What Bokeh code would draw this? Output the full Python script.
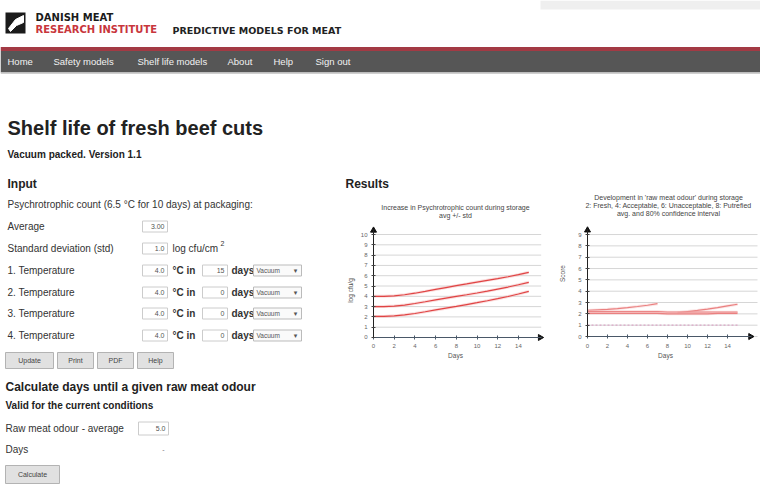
import math
import numpy as np
from bokeh.plotting import figure
from bokeh.layouts import column, row
from bokeh.models import Range1d, FixedTicker
from bokeh.core.properties import value
from bokeh.embed import file_html
from bokeh.resources import INLINE

# ---------------- chart data ----------------
days = list(range(16))
day_ticks = [0, 2, 4, 6, 8, 10, 12, 14]

# Chart 1: psychrotrophic count (log cfu/g), avg +/- std
psy_upper = [4.0, 4.0, 4.05, 4.15, 4.3, 4.48, 4.67, 4.85, 5.03, 5.2, 5.38, 5.55, 5.72, 5.9, 6.1, 6.33]
psy_avg = [3.0, 3.0, 3.05, 3.15, 3.3, 3.47, 3.65, 3.82, 3.99, 4.15, 4.32, 4.5, 4.7, 4.9, 5.12, 5.36]
psy_lower = [2.05, 2.05, 2.1, 2.2, 2.33, 2.5, 2.68, 2.85, 3.02, 3.2, 3.38, 3.57, 3.77, 3.98, 4.22, 4.48]
psy_yticks = [0, 1, 2, 3, 4, 5, 6, 7, 8, 9, 10]

# Chart 2: raw meat odour score, avg and 80% confidence interval
odour_upper = [2.3, 2.35, 2.4, 2.47, 2.55, 2.65, 2.76, 2.9, np.nan, 2.1, 2.2, 2.3, 2.42, 2.55, 2.7, 2.85]
odour_avg = [2.2, 2.2, 2.2, 2.2, 2.2, 2.2, 2.2, 2.2, 2.15, 2.15, 2.15, 2.15, 2.15, 2.15, 2.15, 2.15]
odour_lower = [2.05, 2.05, 2.05, 2.05, 2.05, 2.05, 2.05, 2.05, 2.0, 2.0, 2.0, 2.0, 2.0, 2.05, 2.05, 2.05]
odour_ref_days = [0, 15]
odour_ref_level = [1.0, 1.0]
odour_yticks = [0, 1, 2, 3, 4, 5, 6, 7, 8, 9]

psy_title = ["Increase in Psychrotrophic count during storage", "avg +/- std"]
odour_title = ["Development in 'raw meat odour' during storage",
               "2: Fresh, 4: Acceptable, 6: Unacceptable, 8: Putrefied",
               "avg. and 80% confidence interval"]

# ---------------- page texts ----------------
nav_items = ["Home", "Safety models", "Shelf life models", "About", "Help", "Sign out"]
form_labels = ["Average", "Standard deviation (std)", "1. Temperature",
               "2. Temperature", "3. Temperature", "4. Temperature"]
form_values = ["3.00", "1.0", "4.0", "4.0", "4.0", "4.0"]
period_days = ["15", "0", "0", "0"]
button_labels = ["Update", "Print", "PDF", "Help"]

# ---------------- layout (pixel positions of page chrome) ----------------
nav_x = [7, 53, 137, 227, 273, 315]
form_y = [226, 248, 270, 292, 313, 335]
button_l = [5, 57, 97, 137]
button_r = [53, 93, 133, 173]

SANS = "Liberation Sans"


def txt(p, xs, ys, texts, size, color="#333333", bold=False, align="left",
        font=SANS, baseline="middle", angle=0.0):
    p.text(x=xs, y=ys, text=texts, text_font=value(font), text_font_size=size,
           text_font_style="bold" if bold else "normal", text_color=color,
           text_align=align, text_baseline=baseline, angle=angle)


def page_fig(w, h, x0, x1, y0, y1):
    p = figure(width=w, height=h, x_range=Range1d(x0, x1), y_range=Range1d(y1, y0),
               output_backend="svg", toolbar_location=None, min_border=0,
               outline_line_color=None, x_axis_location=None, y_axis_location=None)
    p.grid.visible = False
    p.background_fill_color = "white"
    p.border_fill_color = "white"
    return p


# ---------------- header / top part ----------------
top = page_fig(760, 192, 0, 760, 0, 192)
top.quad(left=[540], right=[760], top=[0], bottom=[9], color="#efefef", line_color=None)
# logo
top.quad(left=[5], right=[25], top=[12], bottom=[33], fill_color="#1b1b1b", line_color=None)
top.patch(x=[8, 15, 23, 23, 16, 10], y=[28, 19, 15, 22, 25, 31], color="white")
txt(top, [35], [16.5], ["DANISH MEAT"], "10px", "#1b1b1b", True, font="DejaVu Sans")
txt(top, [35], [29], ["RESEARCH INSTITUTE"], "10px", "#c8363c", True, font="DejaVu Sans")
txt(top, [172], [29.5], ["PREDICTIVE MODELS FOR MEAT"], "9.5px", "#222222", True, font="DejaVu Sans")
# nav bar
top.quad(left=[0], right=[760], top=[46.5], bottom=[50.5], color="#a33a44", line_color=None)
top.quad(left=[0], right=[760], top=[50.5], bottom=[72], color="#565656", line_color=None)
top.quad(left=[0], right=[760], top=[72], bottom=[73.5], color="#cfcfcf", line_color=None)
txt(top, nav_x, [61] * len(nav_items), nav_items, "9.5px", "#f2f2f2")
# headings
txt(top, [7], [127], ["Shelf life of fresh beef cuts"], "20px", "#222222", True, baseline="alphabetic")
txt(top, [7], [153.5], ["Vacuum packed. Version 1.1"], "10px", "#222222", True)
txt(top, [7], [183], ["Input"], "12px", "#222222", True)
txt(top, [345], [183], ["Results"], "12px", "#222222", True)

# ---------------- left form ----------------
left = page_fig(340, 297, 0, 340, 192, 489)
txt(left, [7], [204], ["Psychrotrophic count (6.5 \u00b0C for 10 days) at packaging:"], "10px")
txt(left, [7] * 6, form_y, form_labels, "10px")
left.quad(left=[142] * 6, right=[167] * 6, top=[y - 5.5 for y in form_y],
          bottom=[y + 5.5 for y in form_y], fill_color="white", line_color="#cccccc", line_width=1)
txt(left, [164] * 6, form_y, form_values, "7px", "#555555", align="right")
txt(left, [172], [248], ["log cfu/cm"], "10px")
txt(left, [220], [243], ["2"], "7px")
temp_y = form_y[2:]
txt(left, [172] * 4, temp_y, ["\u00b0C in"] * 4, "10px", "#333333", True)
left.quad(left=[202] * 4, right=[227] * 4, top=[y - 5.5 for y in temp_y],
          bottom=[y + 5.5 for y in temp_y], fill_color="white", line_color="#cccccc", line_width=1)
txt(left, [224] * 4, temp_y, period_days, "7px", "#555555", align="right")
txt(left, [231] * 4, temp_y, ["days"] * 4, "10px", "#333333", True)
left.quad(left=[253] * 4, right=[301] * 4, top=[y - 5.5 for y in temp_y],
          bottom=[y + 5.5 for y in temp_y], fill_color="#fafafa", line_color="#bbbbbb", line_width=1)
txt(left, [256] * 4, temp_y, ["Vacuum"] * 4, "6.5px", "#555555")
txt(left, [295] * 4, temp_y, ["\u25be"] * 4, "7px", "#555555", align="center", font="DejaVu Sans")
# buttons
left.quad(left=button_l, right=button_r, top=[352] * 4, bottom=[368] * 4,
          fill_color="#e1e1e1", line_color="#b3b3b3", line_width=1)
txt(left, [(a + b) / 2 for a, b in zip(button_l, button_r)], [360] * 4, button_labels,
    "7px", "#444444", align="center")
# calculation section
txt(left, [5], [386], ["Calculate days until a given raw meat odour"], "12px", "#222222", True)
txt(left, [5], [405], ["Valid for the current conditions"], "10px", "#222222", True)
txt(left, [5], [428], ["Raw meat odour - average"], "10px")
left.quad(left=[138], right=[168], top=[421.5], bottom=[434.5], fill_color="white",
          line_color="#cccccc", line_width=1)
txt(left, [165], [428], ["5.0"], "7px", "#555555", align="right")
txt(left, [5], [449], ["Days"], "10px")
txt(left, [163], [449], ["-"], "7px", "#777777", align="center")
left.quad(left=[5], right=[59], top=[465], bottom=[483], fill_color="#e1e1e1",
          line_color="#b3b3b3", line_width=1)
txt(left, [32], [474], ["Calculate"], "7px", "#444444", align="center")


# ---------------- charts ----------------
# Each chart's frame covers its whole cell; both axes are pinned at 0 inside it.
def chart(w, x_start, x_end, y_bottom, y_top, yticks, x_axis_end, y_axis_end, grid_end):
    p = figure(width=w, height=297, x_range=Range1d(x_start, x_end),
               y_range=Range1d(y_bottom, y_top), output_backend="svg",
               toolbar_location=None, min_border=0, outline_line_color=None)
    p.grid.visible = False
    p.segment(x0=[0] * len(yticks), x1=[grid_end] * len(yticks), y0=yticks, y1=yticks,
              line_color="#d6d6d6", line_width=1)
    p.yaxis.ticker = FixedTicker(ticks=yticks)
    p.yaxis.fixed_location = 0
    p.yaxis.bounds = (0, y_axis_end)
    p.xaxis.ticker = FixedTicker(ticks=day_ticks)
    p.xaxis.fixed_location = 0
    p.xaxis.bounds = (0, x_axis_end)
    for ax in p.axis:
        ax.major_label_text_font = SANS
        ax.major_label_text_font_size = "6px"
        ax.major_label_text_color = "#666666"
        ax.minor_tick_line_color = None
        ax.major_tick_in = 2
        ax.major_tick_out = 2
    p.yaxis.major_label_standoff = 4
    p.xaxis.major_label_standoff = 5
    p.yaxis.axis_line_color = "#222222"
    p.yaxis.major_tick_line_color = "#444444"
    p.xaxis.axis_line_color = "#4a5868"
    p.xaxis.major_tick_line_color = "#4a5868"
    return p


# chart 1: 10.35 px per day (0 at page x 373), 10.3 px per log unit (0 at page y 337)
c1 = chart(216, -3.19, 17.68, -14.76, 14.08, psy_yticks, 16.2, 10.5, 16.2)
for ys in (psy_upper, psy_avg, psy_lower):
    c1.line(days, ys, line_color="#f3b3b3", line_width=3, line_alpha=0.45)
    c1.line(days, ys, line_color="#e04444", line_width=1.2)
c1.scatter([0], [10.4], marker="triangle", size=6, color="#111111")
c1.scatter([16.1], [0], marker="triangle", angle=-math.pi / 2, size=6, color="#111111")
txt(c1, [7.92, 7.92], [12.62, 11.84], psy_title, "7px", "#444444", align="center")
txt(c1, [7.92], [-1.75], ["Days"], "6.5px", "#555555", align="center")
txt(c1, [-2.22], [4.56], ["log cfu/g"], "6.5px", "#555555", align="center", angle=math.pi / 2)

# chart 2: 10 px per day (0 at page x 587), 11.33 px per score unit (0 at page y 336)
c2 = chart(204, -3.1, 17.3, -13.5, 12.71, odour_yticks, 16.4, 9.5, 17.0)
c2.line(odour_ref_days, odour_ref_level, line_color="#dba6c6", line_width=1.2, line_dash="2 2")
for ys in (np.array(odour_upper), np.array(odour_avg), np.array(odour_lower)):
    c2.line(days, ys, line_color="#f6c6c6", line_width=3, line_alpha=0.45)
    c2.line(days, ys, line_color="#ea8080", line_width=1.2)
c2.scatter([0], [9.38], marker="triangle", size=6, color="#111111")
c2.scatter([16.3], [0], marker="triangle", angle=-math.pi / 2, size=6, color="#111111")
txt(c2, [8.1] * 3, [12.27, 11.56, 10.86], odour_title, "7px", "#444444", align="center")
txt(c2, [7.8], [-1.68], ["Days"], "6.5px", "#555555", align="center")
txt(c2, [-2.5], [5.56], ["Score"], "6.5px", "#555555", align="center", angle=math.pi / 2)

layout = column(top, row(left, c1, c2))
open("out.html", "w").write(file_html(layout, INLINE))
